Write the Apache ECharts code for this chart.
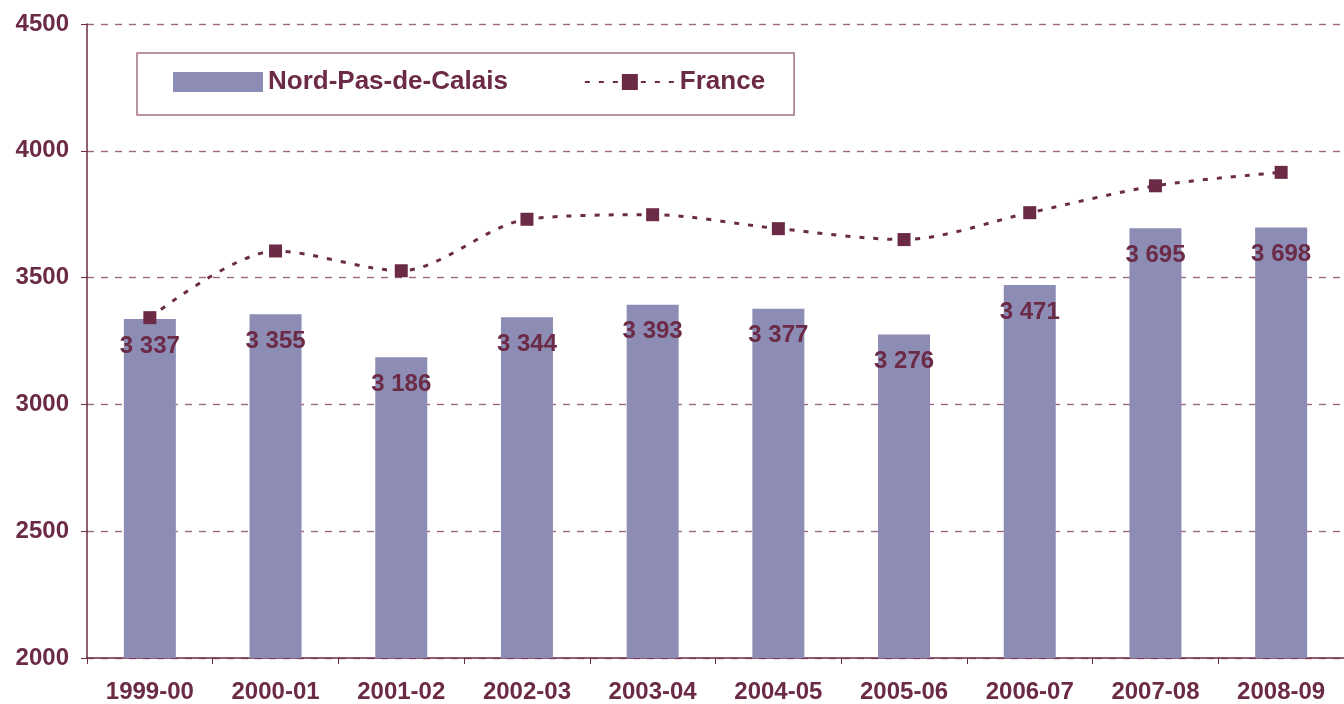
<!DOCTYPE html>
<html><head><meta charset="utf-8">
<script src="https://cdn.jsdelivr.net/npm/echarts@6/dist/echarts.min.js"></script>
<style>html,body{margin:0;padding:0;background:#fff}#c{width:1344px;height:704px}</style>
</head><body><div id="c"></div>
<script>
const categories = ['1999-00','2000-01','2001-02','2002-03','2003-04','2004-05','2005-06','2006-07','2007-08','2008-09'];
const nordPasDeCalais = [3337,3355,3186,3344,3393,3377,3276,3471,3695,3698];
const france = [3342,3605,3527,3730,3748,3693,3650,3756,3862,3915];
const yTicks = [2000,2500,3000,3500,4000,4500];

const maroon = '#6B2A45';
const barColor = '#8C8CB5';
const font = '"Liberation Sans", Arial, sans-serif';

const chart = echarts.init(document.getElementById('c'));
chart.setOption({
  animation: false,
  backgroundColor: '#fff',
  grid: {left: 87, right: 0, top: 24, bottom: 45},
  legend: {
    left: 137, top: 53,
    padding: [16, 29, 20, 36],
    borderColor: '#A07085', borderWidth: 1.5,
    itemWidth: 90, itemHeight: 20, itemGap: 76,
    textStyle: {color: maroon, fontWeight: 'bold', fontSize: 26, fontFamily: font},
    data: [
      {name: 'Nord-Pas-de-Calais', icon: 'rect'},
      {name: 'France'}
    ]
  },
  xAxis: {
    type: 'category', data: categories,
    axisLine: {lineStyle: {color: maroon, width: 1.5}},
    axisTick: {show: true, length: 6, lineStyle: {color: maroon}},
    axisLabel: {color: maroon, fontWeight: 'bold', fontSize: 24, fontFamily: font, margin: 22}
  },
  yAxis: {
    type: 'value', min: yTicks[0], max: yTicks[yTicks.length-1], interval: 500,
    axisLine: {show: true, lineStyle: {color: maroon, width: 1.5}},
    axisTick: {show: true, length: 6, lineStyle: {color: maroon}},
    axisLabel: {color: maroon, fontWeight: 'bold', fontSize: 24, fontFamily: font, margin: 18,
      formatter: v => String(v)},
    splitLine: {show: true, lineStyle: {color: '#9C6A80', type: [7, 7], width: 1.4}}
  },
  series: [
    {
      name: 'Nord-Pas-de-Calais', type: 'bar', data: nordPasDeCalais,
      barWidth: 52,
      itemStyle: {color: barColor},
      label: {
        show: true, position: 'insideTop', distance: 15,
        color: maroon, fontWeight: 'bold', fontSize: 24, fontFamily: font,
        formatter: p => String(p.value).replace(/\B(?=(\d{3})+(?!\d))/g, ' ')
      },
      z: 1
    },
    {
      name: 'France', type: 'line', data: france,
      smooth: 0.3,
      symbol: 'rect', symbolSize: 13,
      itemStyle: {color: maroon},
      lineStyle: {color: maroon, width: 3, type: [5, 9]},
      z: 3
    }
  ]
});
</script>
</body></html>
